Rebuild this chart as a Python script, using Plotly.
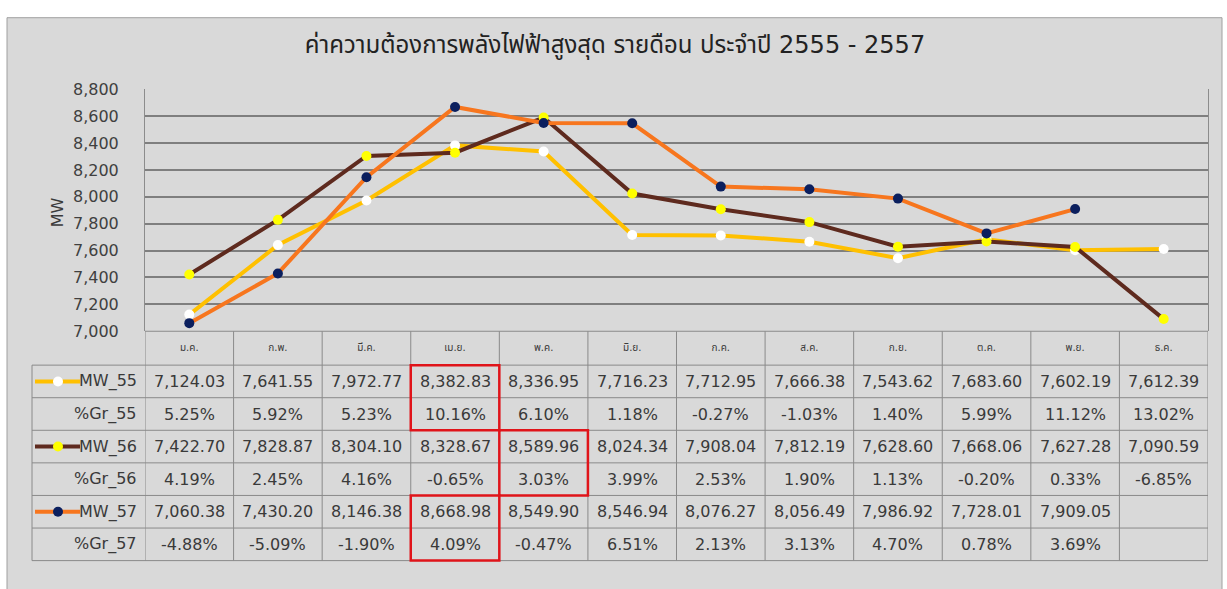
import plotly.graph_objects as go

# ---------------- data ----------------
months = ["ม.ค.", "ก.พ.", "มี.ค.", "เม.ย.", "พ.ค.", "มิ.ย.",
          "ก.ค.", "ส.ค.", "ก.ย.", "ต.ค.", "พ.ย.", "ธ.ค."]
mw_55 = [7124.03, 7641.55, 7972.77, 8382.83, 8336.95, 7716.23,
         7712.95, 7666.38, 7543.62, 7683.60, 7602.19, 7612.39]
gr_55 = [5.25, 5.92, 5.23, 10.16, 6.10, 1.18, -0.27, -1.03, 1.40, 5.99, 11.12, 13.02]
mw_56 = [7422.70, 7828.87, 8304.10, 8328.67, 8589.96, 8024.34,
         7908.04, 7812.19, 7628.60, 7668.06, 7627.28, 7090.59]
gr_56 = [4.19, 2.45, 4.16, -0.65, 3.03, 3.99, 2.53, 1.90, 1.13, -0.20, 0.33, -6.85]
mw_57 = [7060.38, 7430.20, 8146.38, 8668.98, 8549.90, 8546.94,
         8076.27, 8056.49, 7986.92, 7728.01, 7909.05, None]
gr_57 = [-4.88, -5.09, -1.90, 4.09, -0.47, 6.51, 2.13, 3.13, 4.70, 0.78, 3.69, None]
series_names = ["MW_55", "MW_56", "MW_57"]
growth_names = ["%Gr_55", "%Gr_56", "%Gr_57"]
highlights = [("MW_55", "เม.ย."), ("MW_56", "พ.ค."), ("MW_57", "เม.ย.")]
title_text = "ค่าความต้องการพลังไฟฟ้าสูงสุด รายดือน ประจำปี 2555 - 2557"

# ---------------- style ----------------
W, H = 1227, 589
FONT = "Tahoma, 'DejaVu Sans', 'Noto Sans Thai', 'Noto Sans', sans-serif"
TXT = "#3a3a3a"
GRID = "#8a8a8a"
line_colors = ["#FFC000", "#5E2A1E", "#F7761E"]
marker_colors = ["#FFFFFF", "#FFFF00", "#0B1F5E"]

PL, PR, PT, PB = 145, 1208, 83, 333      # plot area (px)
HDR_B = 368                              # header row bottom
TB = 570                                 # table bottom
LEG_L = 32                               # legend column left
RH = (TB - HDR_B) / 6


def fx(x):
    return x / W


def fy(y):
    return 1 - y / H


mw_all = [mw_55, mw_56, mw_57]
gr_all = [gr_55, gr_56, gr_57]

fig = go.Figure()
for name, vals, lc, mc in zip(series_names, mw_all, line_colors, marker_colors):
    fig.add_trace(go.Scatter(
        x=months, y=vals, name=name, mode="lines+markers",
        line=dict(color=lc, width=4),
        marker=dict(color=mc, size=10),
        showlegend=False, connectgaps=False,
    ))

shapes = []
annotations = []

# chart area background
shapes.append(dict(type="rect", xref="paper", yref="paper", layer="below",
                   x0=fx(7), x1=fx(1222), y0=fy(600), y1=fy(9),
                   fillcolor="#D9D9D9", line=dict(color="#A0A0A0", width=1)))

# table horizontal lines
shapes.append(dict(type="line", xref="paper", yref="paper",
                   x0=fx(PL), x1=fx(PR), y0=fy(PB), y1=fy(PB),
                   line=dict(color=GRID, width=1)))
for k in range(7):
    y = HDR_B + k * RH
    shapes.append(dict(type="line", xref="paper", yref="paper",
                       x0=fx(LEG_L), x1=fx(PR), y0=fy(y), y1=fy(y),
                       line=dict(color=GRID, width=1)))
# table vertical lines
shapes.append(dict(type="line", xref="paper", yref="paper",
                   x0=fx(LEG_L), x1=fx(LEG_L), y0=fy(HDR_B), y1=fy(TB),
                   line=dict(color=GRID, width=1)))
for i in range(len(months) + 1):
    shapes.append(dict(type="line", xref="x", yref="paper",
                       x0=i - 0.5, x1=i - 0.5, y0=fy(PB), y1=fy(TB),
                       line=dict(color=GRID, width=1)))

CELL_FONT = dict(size=16, color=TXT)
# table rows
for s in range(3):
    r_mw = 2 * s
    r_gr = 2 * s + 1
    y_mw = HDR_B + (r_mw + 0.5) * RH
    y_gr = HDR_B + (r_gr + 0.5) * RH
    for i, m in enumerate(months):
        v = mw_all[s][i]
        g = gr_all[s][i]
        if v is not None:
            annotations.append(dict(xref="x", yref="paper", x=i, y=fy(y_mw),
                                    xanchor="center", yanchor="middle",
                                    text=f"{v:,.2f}", showarrow=False, font=CELL_FONT))
        if g is not None:
            annotations.append(dict(xref="x", yref="paper", x=i, y=fy(y_gr),
                                    xanchor="center", yanchor="middle",
                                    text=f"{g:.2f}%", showarrow=False, font=CELL_FONT))
    annotations.append(dict(xref="paper", yref="paper", x=fx(139), y=fy(y_mw),
                            xanchor="right", yanchor="middle",
                            text=series_names[s], showarrow=False, font=CELL_FONT))
    annotations.append(dict(xref="paper", yref="paper", x=fx(139), y=fy(y_gr),
                            xanchor="right", yanchor="middle",
                            text=growth_names[s], showarrow=False, font=CELL_FONT))
    # legend glyph
    shapes.append(dict(type="line", xref="paper", yref="paper",
                       x0=fx(35), x1=fx(80), y0=fy(y_mw), y1=fy(y_mw),
                       line=dict(color=line_colors[s], width=4)))
    shapes.append(dict(type="circle", xref="paper", yref="paper",
                       xsizemode="pixel", ysizemode="pixel",
                       xanchor=fx(58), yanchor=fy(y_mw),
                       x0=-5, x1=5, y0=-5, y1=5,
                       fillcolor=marker_colors[s], line=dict(width=0)))

# highlight boxes
for name, m in highlights:
    s = series_names.index(name)
    i = months.index(m)
    y0 = HDR_B + 2 * s * RH
    y1 = y0 + 2 * RH
    shapes.append(dict(type="rect", xref="x", yref="paper",
                       x0=i - 0.5, x1=i + 0.5, y0=fy(y1), y1=fy(y0),
                       line=dict(color="#E0141A", width=2.5)))

# y axis title
annotations.append(dict(xref="paper", yref="paper", x=fx(57), y=fy(210),
                        xanchor="center", yanchor="middle",
                        text="MW", textangle=-90, showarrow=False,
                        font=dict(size=16, color=TXT)))

fig.update_layout(
    width=W, height=H,
    margin=dict(l=0, r=0, t=0, b=0),
    paper_bgcolor="#FFFFFF",
    plot_bgcolor="#A6A6A6",
    font=dict(family=FONT, color=TXT),
    title=dict(text=title_text, x=fx(615), y=fy(45), xanchor="center", yanchor="middle",
               font=dict(size=24, color="#222222")),
    xaxis=dict(domain=[fx(PL), fx(PR)], type="category", categoryorder="array",
               categoryarray=months, range=[-0.5, len(months) - 0.5],
               showgrid=False, zeroline=False, ticks="",
               tickfont=dict(size=10, color=TXT), ticklabelstandoff=9,
               showline=False),
    yaxis=dict(domain=[fy(PB), fy(PT)], range=[7000, 8800], dtick=200,
               tickformat=",", showgrid=True, gridcolor="#7F7F7F", gridwidth=1.5,
               zeroline=False, ticks="", tickfont=dict(size=16, color="#404040"),
               ticklabelstandoff=22, showline=True, linecolor="#8C8C8C", mirror=True),
    shapes=shapes,
    annotations=annotations,
)

fig.write_html("out.html", config={"displayModeBar": False},
               post_script="document.body.style.margin='0';document.body.style.overflow='hidden';")
